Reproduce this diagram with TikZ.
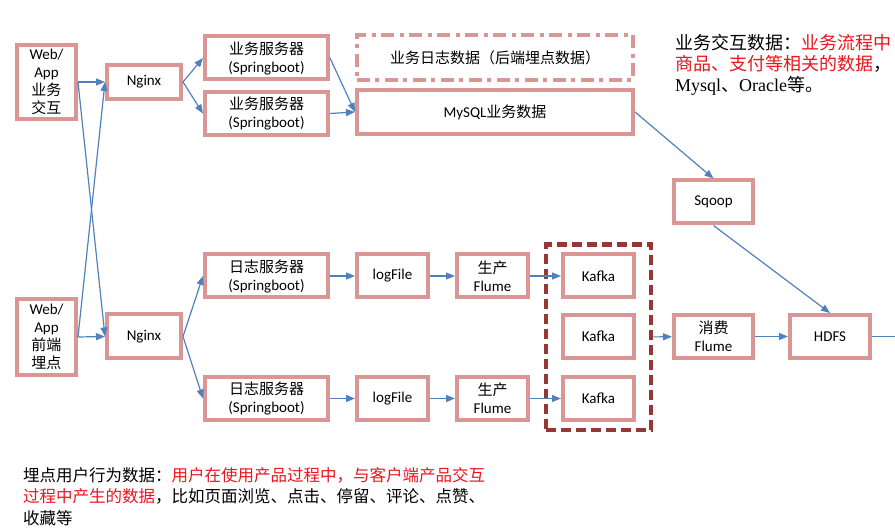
\documentclass[tikz,border=0pt]{standalone}
\usepackage{fontspec}
\setmainfont{Carlito}
\newfontfamily\cjk{Noto Sans CJK SC}
\newfontfamily\timesfont{Liberation Serif}
\usepackage{tikz}
\usetikzlibrary{positioning,fit,arrows.meta}
\definecolor{boxpink}{RGB}{217,150,148}
\definecolor{flowblue}{RGB}{79,129,189}
\definecolor{kafkared}{RGB}{149,55,53}
\definecolor{notered}{RGB}{235,20,30}
\newcommand{\zh}[1]{{\cjk #1}}
\newcommand{\hot}[1]{\textcolor{notered}{\cjk #1}}
\tikzstyle{box} = [draw=boxpink, line width=4pt, inner sep=0pt, align=center, font=\fontsize{15}{18}\selectfont]
\tikzstyle{server} = [box, minimum width=123pt, minimum height=43pt]
\tikzstyle{small} = [box, minimum width=71pt, minimum height=43pt]
\tikzstyle{mid} = [box, minimum width=79pt, minimum height=43pt]
\tikzstyle{kafkagroup} = [draw=kafkared, line width=4.5pt, dash pattern=on 10pt off 5pt, inner xsep=15pt, inner ysep=8pt]
\tikzstyle{flow} = [draw=flowblue, line width=1.2pt, -{Triangle[length=9pt,width=7pt]}]
\tikzstyle{note} = [anchor=north west, inner sep=0pt, align=left]

\begin{document}
\begin{tikzpicture}[x=1pt,y=-1pt]
			\useasboundingbox (0,0) rectangle (895,529);
			\node[box, minimum width=59pt, minimum height=74pt] (webA) at (46.5,82) {Web/\\App\\\zh{业务}\\\zh{交互}};
			\node[box, minimum width=59pt, minimum height=76pt] (webB) at (46.5,337) {Web/\\App\\\zh{前端}\\\zh{埋点}};
			\node[box, minimum width=74pt, minimum height=34pt] (nginxA) at (144,82) {Nginx};
			\node[box, minimum width=74pt, minimum height=44pt] (nginxB) at (144,336.5) {Nginx};
			\node[server] (svcA) at (266.5,58) {\zh{业务服务器}\\(Springboot)};
			\node[server] (svcB) at (266.5,113.5) {\zh{业务服务器}\\(Springboot)};
			\node[box, minimum width=276pt, minimum height=45pt, dash pattern=on 13pt off 5pt on 4pt off 6pt] (bizlog) at (495,57.5) {\zh{业务日志数据（后端埋点数据）}};
			\node[box, minimum width=276pt, minimum height=44pt] (mysql) at (495,112) {MySQL\zh{业务数据}};
			\node[mid] (sqoop) at (713.5,202) {Sqoop};
			\node[server] (logsvcA) at (266.5,276) {\zh{日志服务器}\\(Springboot)};
			\node[small, right = 25pt of logsvcA] (logfileA) {logFile};
			\node[small, right = 25pt of logfileA] (flumeA) {\zh{生产}\\Flume};
			\node[small, right = 31pt of flumeA] (kafkaA) {Kafka};
			\node[server] (logsvcB) at (266.5,398.5) {\zh{日志服务器}\\(Springboot)};
			\node[small, right = 25pt of logsvcB] (logfileB) {logFile};
			\node[small, right = 25pt of logfileB] (flumeB) {\zh{生产}\\Flume};
			\node[small, right = 31pt of flumeB] (kafkaC) {Kafka};
			\node[small] (kafkaB) at (598.5,336.5) {Kafka};
			\node[kafkagroup, fit=(kafkaA)(kafkaC)] (kafka) {};
			\node[mid] (consumer) at (713.5,336.5) {\zh{消费}\\Flume};
			\node[box, minimum width=80pt, minimum height=43pt, right = 33pt of consumer] (hdfs) {HDFS};
			\coordinate (hdfsout) at (904,336.5);
			\path (webA.east) edge[flow] (nginxA.west) (webA.east) edge[flow] (nginxB.west);
			\path (webB.east) edge[flow] (nginxA.west) (webB.east) edge[flow] (nginxB.west);
			\path (nginxA.east) edge[flow] (svcA.west) (nginxA.east) edge[flow] (svcB.west);
			\path (svcA.east) edge[flow] (mysql.west) (svcB.east) edge[flow] (mysql.west);
			\path (mysql.east) edge[flow] (sqoop.north);
			\path (sqoop.south) edge[flow] (hdfs.north);
			\path (nginxB.east) edge[flow] (logsvcA.west) (nginxB.east) edge[flow] (logsvcB.west);
			\path (logsvcA) edge[flow] (logfileA) (logfileA) edge[flow] (flumeA) (flumeA) edge[flow] (kafkaA);
			\path (logsvcB) edge[flow] (logfileB) (logfileB) edge[flow] (flumeB) (flumeB) edge[flow] (kafkaC);
			\path (kafka) edge[flow] (consumer) (consumer) edge[flow] (hdfs) (hdfs) edge[flow] (hdfsout);
			\node[note, font=\fontsize{18}{21}\selectfont] (biznote) at (675,34) {\zh{业务交互数据：}\hot{业务流程中}\\\hot{商品、支付等相关的数据}\zh{，}\\{\timesfont Mysql}\zh{、}{\timesfont Oracle}\zh{等。}};
			\node[note, font=\fontsize{16.5}{21.7}\selectfont] (tracknote) at (23,467) {\zh{埋点用户行为数据：}\hot{用户在使用产品过程中，与客户端产品交互}\\\hot{过程中产生的数据}\zh{，比如页面浏览、点击、停留、评论、点赞、}\\\zh{收藏等}};
		\end{tikzpicture}
\end{document}
